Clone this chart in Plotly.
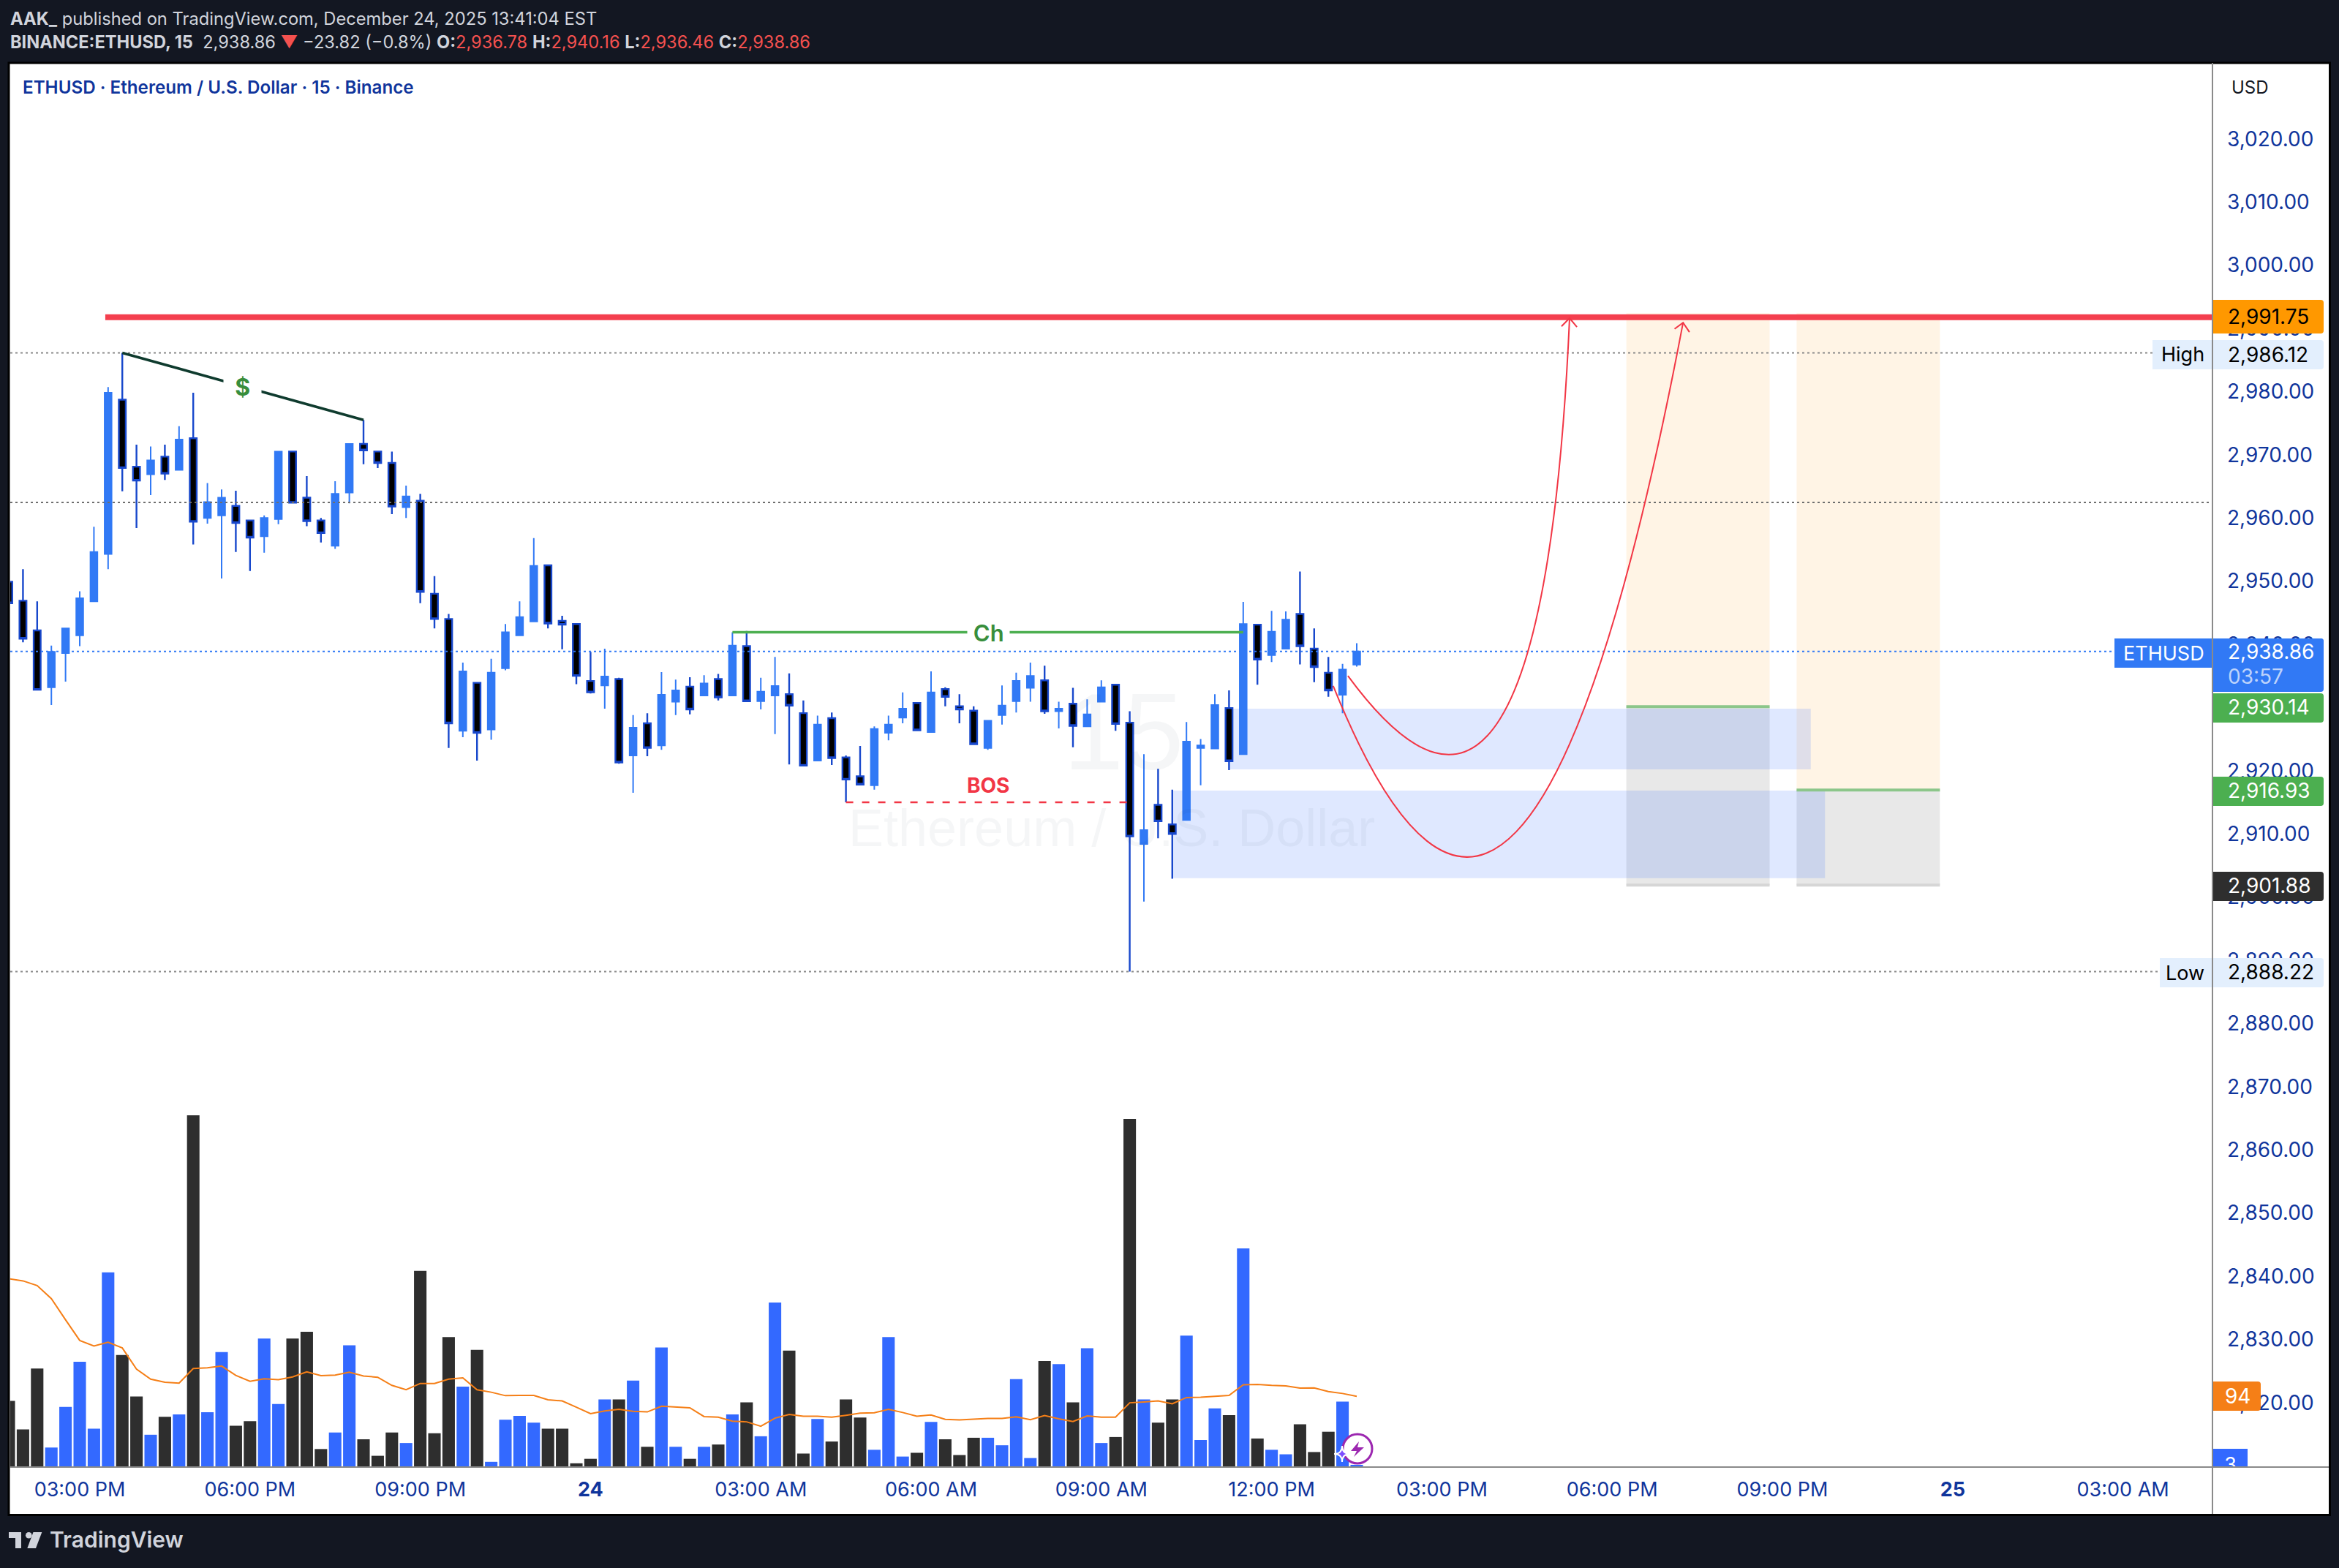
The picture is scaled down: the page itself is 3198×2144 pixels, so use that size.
import pandas as pd
import plotly.graph_objects as go

# OHLC, 15 min bars starting 2025-12-23 13:45
bar_open = [2949.9, 2946.9, 2942.2, 2933.2, 2938.6, 2941.4, 2946.8, 2954.3, 2978.7, 2968.1, 2966.9, 2969.7,
            2967.6, 2972.6, 2960.0, 2960.4, 2961.9, 2959.6, 2957.1, 2959.8, 2970.5, 2963.2, 2959.6, 2955.6,
            2964.0, 2971.7, 2970.5, 2968.7, 2961.7, 2962.7, 2948.0, 2944.0, 2926.3, 2933.9, 2926.5, 2936.2,
            2941.4, 2943.6, 2952.5, 2943.7, 2943.2, 2934.2, 2933.5, 2934.5, 2922.4, 2927.5, 2924.0, 2930.9,
            2933.3, 2931.9, 2934.5, 2931.9, 2939.7, 2931.0, 2931.9, 2932.1, 2929.1, 2921.6, 2928.3, 2922.1,
            2919.1, 2917.7, 2926.0, 2928.4, 2930.7, 2926.1, 2932.9, 2930.2, 2929.5, 2923.6, 2928.8, 2931.0,
            2933.1, 2934.3, 2929.4, 2930.6, 2927.0, 2930.9, 2933.6, 2927.6, 2908.4, 2914.6, 2911.5, 2912.2,
            2923.6, 2923.5, 2929.9, 2922.6, 2943.1, 2938.3, 2939.3, 2944.8, 2939.3, 2935.5, 2932.0, 2936.78]
bar_high = [2949.9, 2951.9, 2946.8, 2939.8, 2942.5, 2948.4, 2958.6, 2980.7, 2986.12, 2971.6, 2971.3, 2971.6,
            2974.5, 2979.8, 2965.5, 2964.5, 2964.3, 2959.6, 2960.4, 2970.5, 2970.5, 2966.6, 2960.0, 2965.8,
            2971.7, 2975.5, 2970.5, 2970.5, 2965.1, 2963.8, 2950.8, 2944.8, 2937.1, 2933.9, 2937.7, 2943.2,
            2946.8, 2956.8, 2952.5, 2944.5, 2943.2, 2938.8, 2939.3, 2934.7, 2928.8, 2929.1, 2935.6, 2934.4,
            2934.8, 2935.1, 2935.3, 2941.9, 2942.1, 2934.7, 2938.0, 2935.4, 2931.1, 2928.7, 2929.2, 2922.4,
            2923.9, 2927.0, 2928.7, 2932.4, 2930.7, 2935.7, 2933.2, 2932.1, 2930.2, 2927.9, 2933.5, 2935.5,
            2937.1, 2936.6, 2930.9, 2933.1, 2931.3, 2934.3, 2933.6, 2929.4, 2922.6, 2920.3, 2917.0, 2927.7,
            2925.0, 2932.1, 2932.7, 2946.7, 2943.1, 2945.3, 2945.2, 2951.5, 2942.5, 2938.0, 2936.9, 2940.16]
bar_low = [2946.5, 2940.3, 2932.8, 2930.4, 2934.1, 2939.7, 2946.8, 2951.9, 2964.2, 2958.4, 2963.6, 2966.0,
           2967.6, 2955.8, 2959.1, 2950.4, 2954.6, 2951.6, 2954.5, 2959.0, 2962.3, 2958.7, 2956.1, 2955.1,
           2962.3, 2968.5, 2967.9, 2960.6, 2960.0, 2946.5, 2942.5, 2923.6, 2925.3, 2921.6, 2924.9, 2935.9,
           2941.4, 2943.6, 2942.5, 2939.2, 2933.7, 2932.2, 2929.8, 2921.1, 2916.5, 2922.3, 2923.3, 2928.8,
           2928.9, 2931.9, 2931.1, 2931.9, 2931.0, 2929.7, 2925.8, 2921.0, 2920.8, 2921.6, 2920.9, 2915.0,
           2917.8, 2917.0, 2924.8, 2927.5, 2926.4, 2926.1, 2930.2, 2927.5, 2924.2, 2923.3, 2927.3, 2929.2,
           2930.9, 2929.0, 2926.7, 2923.7, 2927.0, 2930.9, 2926.3, 2888.22, 2899.3, 2909.3, 2902.9, 2912.2,
           2917.7, 2923.4, 2920.1, 2922.6, 2933.6, 2937.2, 2939.3, 2936.8, 2934.0, 2931.7, 2929.1, 2936.46]
bar_close = [2946.5, 2940.9, 2932.8, 2938.8, 2942.5, 2947.3, 2954.6, 2979.8, 2967.9, 2965.9, 2969.1, 2967.0,
             2972.4, 2959.4, 2962.5, 2963.2, 2959.2, 2956.9, 2960.0, 2970.5, 2962.4, 2959.5, 2957.6, 2963.8,
             2971.7, 2970.7, 2968.7, 2961.8, 2963.4, 2948.3, 2944.0, 2927.5, 2935.7, 2926.0, 2935.5, 2941.9,
             2944.3, 2952.4, 2943.3, 2943.1, 2935.0, 2932.4, 2934.9, 2921.3, 2926.8, 2923.6, 2932.0, 2932.7,
             2929.7, 2933.8, 2931.6, 2939.8, 2931.0, 2932.5, 2933.4, 2930.3, 2920.8, 2927.3, 2922.0, 2918.6,
             2917.8, 2926.6, 2927.3, 2929.8, 2926.4, 2932.4, 2931.7, 2929.7, 2924.2, 2927.9, 2930.3, 2934.2,
             2935.0, 2929.4, 2929.8, 2927.1, 2928.9, 2933.2, 2927.4, 2909.6, 2910.6, 2912.0, 2910.0, 2924.6,
             2924.0, 2930.4, 2921.5, 2943.2, 2937.6, 2942.0, 2943.9, 2939.7, 2936.4, 2932.7, 2936.0, 2938.86]

volume = [88, 50, 131, 26, 80, 140, 51, 259, 149, 94, 43, 67,
          70, 468, 73, 153, 55, 61, 171, 84, 171, 180, 24, 46,
          162, 37, 15, 46, 32, 261, 45, 173, 107, 156, 7, 63,
          68, 59, 51, 51, 5, 11, 90, 90, 115, 27, 159, 27,
          11, 27, 30, 70, 86, 41, 219, 155, 18, 64, 34, 90,
          66, 23, 173, 14, 19, 60, 37, 16, 39, 39, 29, 117,
          12, 141, 137, 86, 158, 32, 40, 463, 90, 59, 90, 175,
          36, 78, 69, 291, 38, 23, 17, 57, 20, 47, 87, 3]
volume_ma = [250.6, 247.7, 241.5, 224.1, 195.9, 168.5, 161, 166, 158.5, 130.3, 117, 112.9,
             111.6, 131.1, 132, 134.4, 122, 114.1, 117.4, 116.2, 119.9, 126.6, 121.6, 122.4,
             126.1, 121.2, 119.5, 108.7, 102.9, 111.2, 111.2, 117, 118.7, 102.9, 99.6, 95,
             95.4, 95.4, 89.6, 88, 79.7, 71, 74.7, 76.8, 74.3, 73.4, 80.9, 80.1,
             78.8, 67.2, 66.4, 61, 60.2, 54.4, 65.1, 70.1, 67.6, 67.6, 66.4, 68.9,
             71.8, 72.2, 76.8, 72.6, 67.6, 69.3, 63.5, 62.7, 63.9, 64.7, 64.7, 66.8,
             63.1, 68.5, 64.3, 60.6, 68, 66.4, 66.4, 85.5, 86.7, 88, 84.2, 92.5,
             92.9, 93.8, 95.4, 109.5, 110, 108.7, 107.9, 105, 105.4, 100.4, 97.9, 94.2]

price_ticks = [3020, 3010, 3000, 2990, 2980, 2970, 2960, 2950, 2940, 2930, 2920, 2910,
               2900, 2890, 2880, 2870, 2860, 2850, 2840, 2830, 2820]
time_ticks = ["2025-12-23 15:00", "2025-12-23 18:00", "2025-12-23 21:00", "2025-12-24 00:00",
              "2025-12-24 03:00", "2025-12-24 06:00", "2025-12-24 09:00", "2025-12-24 12:00",
              "2025-12-24 15:00", "2025-12-24 18:00", "2025-12-24 21:00", "2025-12-25 00:00",
              "2025-12-25 03:00"]
time_labels = ["03:00 PM", "06:00 PM", "09:00 PM", "<b>24</b>", "03:00 AM", "06:00 AM", "09:00 AM",
               "12:00 PM", "03:00 PM", "06:00 PM", "09:00 PM", "<b>25</b>", "03:00 AM"]

target_price = 2991.75
high_price = 2986.12
low_price = 2888.22
last_price = 2938.86
entry_1 = 2930.14
entry_2 = 2916.93
stop_price = 2901.88

# page layout in pixels
W, H = 3198, 2144
LEFT, RIGHT, TOP, BOTTOM = 14, 3025, 86, 2006
PANEL_R, PANEL_B = 3185.5, 2071.5

DARK = "#131722"
NAVY = "#10359C"
UP = "#3179F5"
DOWN_EDGE = "#1848CC"
VOL_UP = "#3369FF"
VOL_DOWN = "#2E2E2E"
RED = "#F23645"
FONT = "Inter"

start = pd.Timestamp("2025-12-23 15:00")
times = pd.date_range("2025-12-23 13:45", periods=len(bar_open), freq="15min")


def bar_time(i):
    # i = number of bars after 15:00 on the 23rd, can be fractional
    return (start + pd.Timedelta(minutes=15 * i)).strftime("%Y-%m-%d %H:%M:%S")


def pt(i, price):
    return f"{bar_time(i).replace(' ', '_')},{price}"


def px(x):
    return (x - LEFT) / (RIGHT - LEFT)


def py(y):
    return (BOTTOM - y) / (BOTTOM - TOP)


shapes = []
annotations = []


def box(x0, x1, y0, y1, color, layer="below"):
    shapes.append(dict(type="rect", xref="x", yref="y", x0=x0, x1=x1, y0=y0, y1=y1,
                       fillcolor=color, line_width=0, layer=layer))


def hline(x0, x1, y, color, width, dash="solid"):
    shapes.append(dict(type="line", xref="x", yref="y", x0=x0, x1=x1, y0=y, y1=y,
                       line=dict(color=color, width=width, dash=dash), layer="above"))


def dotted(price, x_end, color):
    shapes.append(dict(type="line", xref="paper", yref="y", x0=0, x1=px(x_end), y0=price, y1=price,
                       line=dict(color=color, width=2, dash="3px,4px"), layer="above"))


def paper_path(d, fill="rgba(0,0,0,0)", color="rgba(0,0,0,0)", width=0, layer="above"):
    shapes.append(dict(type="path", xref="paper", yref="paper", path=d, fillcolor=fill,
                       line=dict(color=color, width=width), layer=layer))


def poly(points):
    return "M " + " L ".join(f"{px(x)},{py(y)}" for x, y in points) + " Z"


def badge(x0, y0, x1, y1, color):
    r = 4
    d = (f"M {px(x0)},{py(y0)} L {px(x1 - r)},{py(y0)} Q {px(x1)},{py(y0)} {px(x1)},{py(y0 + r)} "
         f"L {px(x1)},{py(y1 - r)} Q {px(x1)},{py(y1)} {px(x1 - r)},{py(y1)} L {px(x0)},{py(y1)} Z")
    paper_path(d, fill=color)


def text(x, y, s, size, color, anchor="left", weight=400, family=FONT, bg=None):
    annotations.append(dict(xref="paper", yref="paper", x=px(x), y=py(y), text=s, showarrow=False,
                            xanchor=anchor, yanchor="middle", borderpad=0, bgcolor=bg,
                            font=dict(size=size, color=color, family=family, weight=weight)))


# white panel, dark border and the axis lines
shapes.append(dict(type="rect", xref="paper", yref="paper", x0=px(12), x1=px(PANEL_R), y0=py(86), y1=py(PANEL_B),
                   fillcolor="white", line=dict(color="#000000", width=3), layer="below"))

# long / short position tools
box(bar_time(109), bar_time(119.1), entry_1, 2992.4, "rgba(255,152,0,0.10)")
box(bar_time(109), bar_time(119.1), stop_price, entry_1, "rgba(0,0,0,0.09)")
box(bar_time(121), bar_time(131.1), entry_2, 2992.4, "rgba(255,152,0,0.10)")
box(bar_time(121), bar_time(131.1), stop_price, entry_2, "rgba(0,0,0,0.09)")

# demand zones
box(bar_time(81), bar_time(122), 2920.2, 2929.8, "rgba(41,98,255,0.15)")
box(bar_time(77), bar_time(123), 2903.0, 2916.85, "rgba(41,98,255,0.15)")

hline(bar_time(109), bar_time(119.1), entry_1, "#8CC68A", 4)
hline(bar_time(121), bar_time(131.1), entry_2, "#8CC68A", 4)
hline(bar_time(109), bar_time(119.1), stop_price, "#D6D6D6", 4)
hline(bar_time(121), bar_time(131.1), stop_price, "#D6D6D6", 4)

# price lines
dotted(high_price, 2943, "#8A8A8A")
dotted(2962.45, RIGHT, "#6E6E6E")
dotted(last_price, 2891, UP)
dotted(low_price, 2953, "#8A8A8A")

# drawings
hline(bar_time(1.8), bar_time(150.31), target_price, "#F43F4E", 8)
hline(bar_time(46), bar_time(82), 2941.9, "#4CAF50", 3.5)
hline(bar_time(54), bar_time(74), 2915.0, RED, 2.4, "10px,12px")
shapes.append(dict(type="line", xref="x", yref="y", x0=bar_time(3), x1=bar_time(20), y0=2986.12, y1=2975.5,
                   line=dict(color="#0F3B2E", width=3.5), layer="above"))

# forecast curves with arrow heads
curve_color = dict(color=RED, width=2)
shapes.append(dict(type="path", xref="x", yref="y", layer="above", line=curve_color,
                   path=f"M {pt(89.38, 2935.0)} Q {pt(103.04, 2893.2)} {pt(105.0, 2991.6)}"))
shapes.append(dict(type="path", xref="x", yref="y", layer="above", line=curve_color,
                   path=f"M {pt(88.34, 2933.4)} Q {pt(101.8, 2858.5)} {pt(113.0, 2990.9)}"))
shapes.append(dict(type="path", xref="x", yref="y", layer="above", line=curve_color,
                   path=f"M {pt(104.43, 2990.3)} L {pt(105.0, 2991.6)} L {pt(105.52, 2990.2)}"))
shapes.append(dict(type="path", xref="x", yref="y", layer="above", line=curve_color,
                   path=f"M {pt(112.4, 2989.9)} L {pt(113.0, 2990.9)} L {pt(113.45, 2989.4)}"))

# badges on the price scale
badge(3026, 410, 3177, 456, "#FF9800")
badge(2943, 465, 3177, 505, "#E3EFFD")
badge(2891, 873, 3177, 913, UP)
badge(3026, 873, 3177, 946, UP)
badge(3026, 948, 3177, 988, "#4CAF50")
badge(3026, 1062, 3177, 1102, "#4CAF50")
badge(3026, 1192, 3177, 1232, "#2E2E2E")
badge(2953, 1310, 3177, 1350, "#E3EFFD")
badge(3026, 1889, 3091, 1929, "#F57F17")
# volume badge, cut off by the time scale
shapes.append(dict(type="rect", xref="paper", yref="paper", x0=px(3026), x1=px(3073), y0=py(2021), y1=py(1981),
                   fillcolor=VOL_UP, line_width=0, layer="above",
                   label=dict(text="3", textposition="middle center",
                              font=dict(size=27, color="white", family=FONT))))
paper_path(poly([(3024, 2007), (3095, 2007), (3095, 2030), (3024, 2030)]), fill="white", layer="above")

# axis lines
paper_path(poly([(LEFT, BOTTOM - 1), (PANEL_R - 1.5, BOTTOM - 1), (PANEL_R - 1.5, BOTTOM + 1), (LEFT, BOTTOM + 1)]),
           fill="#8A8A8A")
paper_path(poly([(RIGHT - 1, TOP), (RIGHT + 1, TOP), (RIGHT + 1, PANEL_B - 1.5), (RIGHT - 1, PANEL_B - 1.5)]),
           fill="#8A8A8A")

LBL = 28
text(3045, 433, "2,991.75", LBL, "#000000")
text(3015, 485, "High", 27, "#000000", anchor="right")
text(3045, 485, "2,986.12", LBL, "#000000")
text(3015, 893, "ETHUSD", 27, "white", anchor="right")
text(3045, 891, "2,938.86", LBL, "white")
text(3045, 925, "03:57", LBL, "#BDD3FB")
text(3045, 967, "2,930.14", LBL, "white")
text(3045, 1081, "2,916.93", LBL, "white")
text(3045, 1211, "2,901.88", LBL, "white")
text(3015, 1330, "Low", 27, "#000000", anchor="right")
text(3045, 1329, "2,888.22", LBL, "#000000")
text(3059, 1909, "94", LBL, "white", anchor="center")
text(3076, 120, "USD", 24, "#131722", anchor="center")

# labels on drawings
text(331, 530, "&nbsp;&nbsp;$&nbsp;&nbsp;", 32, "#388E3C", anchor="center", weight=700, bg="white")
text(1351, 865, "&nbsp;Ch&nbsp;", 31, "#388E3C", anchor="center", weight=600, bg="white")
text(1351, 1074, "BOS", 28, RED, anchor="center", weight=700)

# watermark
text(1536, 1000, "15", 148, "rgba(19,35,80,0.045)", anchor="center", family="Liberation Sans")
text(1520, 1132, "Ethereum / U.S. Dollar", 72, "rgba(19,35,80,0.045)", anchor="center", family="Liberation Sans")

# header and footer
text(13, 25, "<b>AAK_</b> published on TradingView.com, December 24, 2025 13:41:04 EST", 23.7, "#D1D4DC")
v = '<span style="color:#F4514F">'
text(13, 58, f"<b>BINANCE:ETHUSD, 15</b>&nbsp; 2,938.86 {v}▼</span> −23.82 (−0.8%) "
             f"<b>O:</b>{v}2,936.78</span> <b>H:</b>{v}2,940.16</span> "
             f"<b>L:</b>{v}2,936.46</span> <b>C:</b>{v}2,938.86</span>", 23.6, "#D1D4DC")
text(30, 120, "ETHUSD · Ethereum / U.S. Dollar · 15 · Binance", 24.2, NAVY, weight=600)
text(67, 2105, "TradingView", 30, "#D1D4DC", weight=600)

# TradingView logo
paper_path(poly([(12, 2095), (29, 2095), (29, 2117), (21, 2117), (21, 2103), (12, 2103)]), fill="#D1D4DC")
paper_path(poly([(45.5, 2095), (57.3, 2095), (49, 2117), (37.3, 2117)]), fill="#D1D4DC")
shapes.append(dict(type="circle", xref="paper", yref="paper", x0=px(35), x1=px(43.6), y0=py(2103.6), y1=py(2095),
                   fillcolor="#D1D4DC", line_width=0, layer="above"))

# purple icon at the last bar
shapes.append(dict(type="circle", xref="paper", yref="paper", x0=px(1836), x1=px(1876), y0=py(2001), y1=py(1961),
                   fillcolor="white", line=dict(color="#9C27B0", width=3), layer="above"))
paper_path(poly([(1858, 1971), (1847, 1984), (1855, 1984), (1851, 1992), (1865, 1979), (1856, 1979)]), fill="#9C27B0")
cx, cy, r = 1835, 1988, 11
paper_path(f"M {px(cx)},{py(cy - r)} Q {px(cx)},{py(cy)} {px(cx + r)},{py(cy)} "
           f"Q {px(cx)},{py(cy)} {px(cx)},{py(cy + r)} Q {px(cx)},{py(cy)} {px(cx - r)},{py(cy)} "
           f"Q {px(cx)},{py(cy)} {px(cx)},{py(cy - r)} Z", fill="#7C4DFF", color="white", width=2)

vol_colors = [VOL_UP if c >= o else VOL_DOWN for o, c in zip(bar_open, bar_close)]

fig = go.Figure()
fig.add_trace(go.Bar(x=times, y=volume, marker=dict(color=vol_colors, line_width=0), yaxis="y2"))
fig.add_trace(go.Scatter(x=times, y=volume_ma, mode="lines", line=dict(color="#F57F17", width=2), yaxis="y2"))
fig.add_trace(go.Candlestick(
    x=times, open=bar_open, high=bar_high, low=bar_low, close=bar_close,
    increasing=dict(line=dict(color=UP, width=2), fillcolor=UP),
    decreasing=dict(line=dict(color=DOWN_EDGE, width=2.4), fillcolor="#000000"),
))

fig.update_layout(
    width=W,
    height=H,
    margin=dict(l=LEFT, r=W - RIGHT, t=TOP, b=H - BOTTOM, pad=0),
    paper_bgcolor=DARK,
    plot_bgcolor="white",
    showlegend=False,
    hovermode=False,
    bargap=0.12,
    boxgap=0.3,
    font=dict(family=FONT, color=NAVY, size=27),
    shapes=shapes,
    annotations=annotations,
    xaxis=dict(
        type="date",
        range=[bar_time(-4.897), bar_time(150.31)],
        rangeslider=dict(visible=False),
        tickvals=time_ticks,
        ticktext=time_labels,
        tickangle=0,
        showgrid=False,
        zeroline=False,
        showline=False,
        ticks="",
        ticklabelstandoff=12,
        tickfont=dict(size=27, color=NAVY, family=FONT),
    ),
    yaxis=dict(
        range=[2809.8, 3032.0],
        side="right",
        tickvals=price_ticks,
        tickformat=",.2f",
        showgrid=False,
        zeroline=False,
        showline=False,
        ticks="",
        ticklabelstandoff=19,
        tickfont=dict(size=28, color=NAVY, family=FONT),
    ),
    yaxis2=dict(range=[0, 1868], overlaying="y", side="right", visible=False),
)

fig.write_html("out.html", config=dict(displayModeBar=False),
               post_script="document.body.style.margin='0';document.body.style.background='#131722';")
